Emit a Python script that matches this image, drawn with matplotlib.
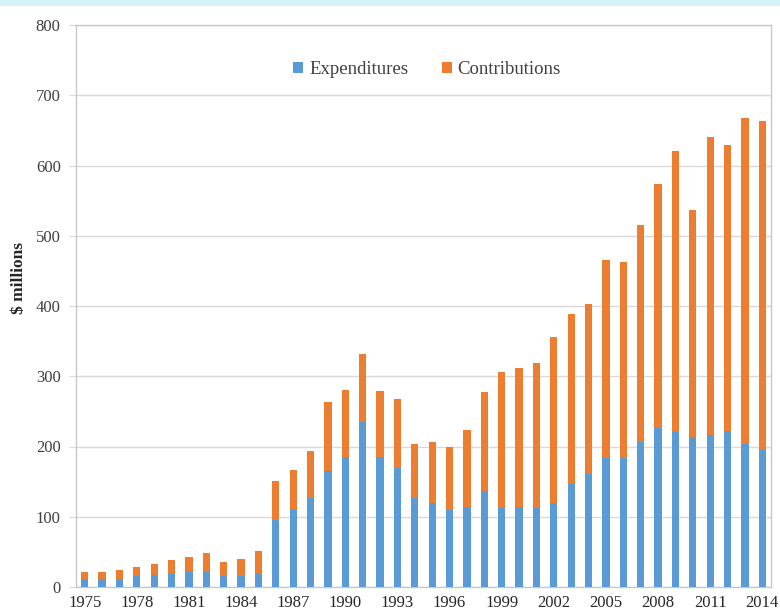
import matplotlib
matplotlib.use("Agg")
import matplotlib.pyplot as plt
import numpy as np
from matplotlib.patches import Rectangle

years = list(range(1975, 2015))
totals = [22, 21, 24, 29, 33, 39, 42, 48, 36, 40, 51,
          151, 167, 194, 263, 281, 332, 279, 267, 203,
          206, 200, 223, 277, 306, 312, 319, 356, 388, 403,
          465, 462, 516, 574, 620, 536, 641, 629, 668, 663]
expenditures = [12, 11, 12, 15, 17, 19, 21, 21, 15, 15, 20,
                95, 110, 126, 165, 185, 235, 185, 170, 126,
                120, 110, 114, 136, 112, 114, 113, 120, 147, 161,
                184, 183, 206, 227, 221, 214, 216, 222, 204, 195]
contributions = [t - e for t, e in zip(totals, expenditures)]
tick_years = list(range(1975, 2015, 3))

plt.rcParams['font.family'] = ['Liberation Serif', 'DejaVu Serif']

fig = plt.figure(figsize=(7.8, 6.16), dpi=100)
ax = fig.add_axes([76/780, 29/616, 695/780, 562/616])

# cropped title strip at top
fig.patches.append(Rectangle((0, 1 - 6/616), 1, 6/616, transform=fig.transFigure,
                             facecolor='#d6f3f9', edgecolor='none', zorder=0))

x = np.arange(len(years))
blue = '#5b9bd5'
orange = '#ed7d31'
ax.bar(x, expenditures, width=0.42, color=blue, label='Expenditures', zorder=3)
ax.bar(x, contributions, width=0.42, bottom=expenditures, color=orange,
       label='Contributions', zorder=3)

ax.set_xlim(-0.5, len(years) - 0.5)
ax.set_ylim(0, 800)
ax.set_yticks(range(0, 801, 100))
ax.set_xticks([years.index(y) for y in tick_years])
ax.set_xticklabels([str(y) for y in tick_years])

ax.grid(axis='y', color='#d9d9d9', linewidth=1, zorder=0)
ax.set_axisbelow(True)
for s in ax.spines.values():
    s.set_color('#c8c8c8')
    s.set_linewidth(1)

ax.tick_params(axis='y', length=5, color='#d9d9d9', labelsize=12,
               labelcolor='#404040', pad=6)
ax.tick_params(axis='x', length=0, labelsize=12, labelcolor='#262626', pad=6)

ax.set_ylabel('$ millions', fontsize=12.5, fontweight='bold', color='#262626')
ax.yaxis.set_label_coords(-0.071, 0.55)

leg = ax.legend(loc='center', bbox_to_anchor=(0.505, 0.92), ncol=2, frameon=False,
                fontsize=13.5, handlelength=0.55, handleheight=0.55, handletextpad=0.3,
                columnspacing=1.8)
for t in leg.get_texts():
    t.set_color('#404040')

fig.savefig('out.png', dpi=100)
